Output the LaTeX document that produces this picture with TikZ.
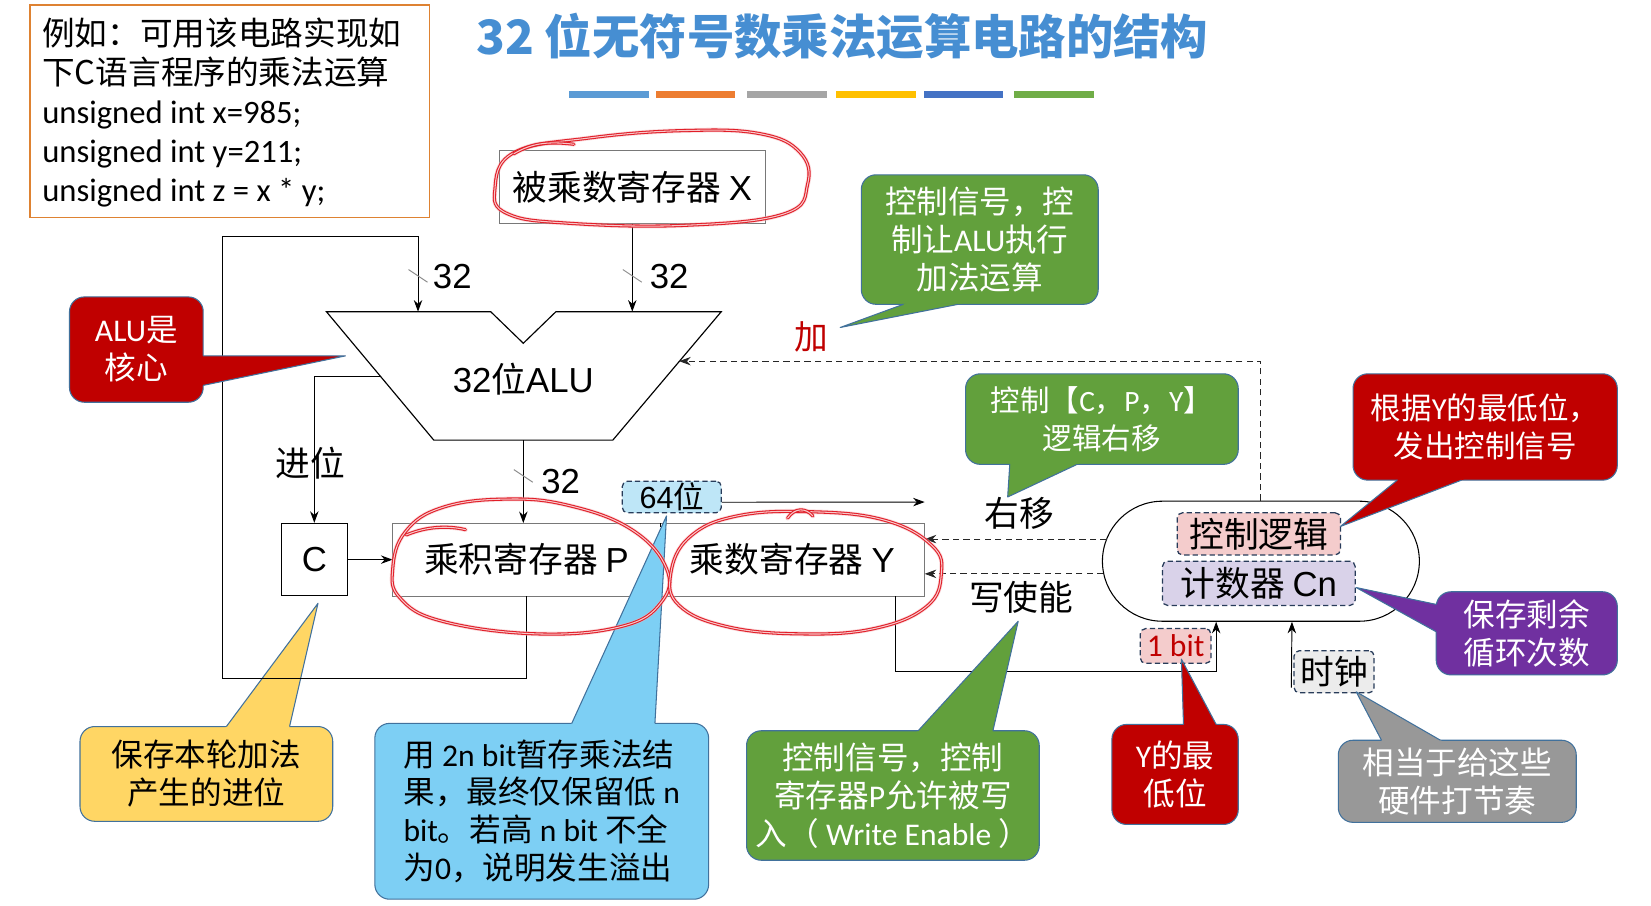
\documentclass[tikz,border=0pt]{standalone}
\usepackage{fontspec}
\setmainfont{Noto Sans CJK SC}
\newfontfamily\latf{Carlito}
\newfontfamily\hv{Liberation Sans}
\usetikzlibrary{arrows.meta,calc}
\definecolor{titleblue}{RGB}{70,142,210}
\definecolor{boxorange}{RGB}{222,130,50}
\definecolor{cgreen}{RGB}{98,160,60}
\definecolor{cred}{RGB}{192,0,0}
\definecolor{cpurple}{RGB}{112,48,160}
\definecolor{cgray}{RGB}{152,152,152}
\definecolor{cyellow}{RGB}{255,214,100}
\definecolor{cblue}{RGB}{125,207,244}
\definecolor{cedge}{RGB}{65,113,156}
\definecolor{dashedge}{RGB}{40,60,90}
\definecolor{fpink}{RGB}{244,204,204}
\definecolor{flav}{RGB}{217,210,233}
\definecolor{flblue}{RGB}{190,230,247}
\definecolor{flgray}{RGB}{236,236,236}
\definecolor{regedge}{RGB}{120,120,120}
\definecolor{handred}{RGB}{225,30,40}
\definecolor{barA}{RGB}{91,155,213}
\definecolor{barB}{RGB}{237,125,49}
\definecolor{barC}{RGB}{165,165,165}
\definecolor{barD}{RGB}{255,192,0}
\definecolor{barE}{RGB}{68,114,196}
\definecolor{barF}{RGB}{112,173,71}
\newcommand\fsz[2]{\fontsize{#1}{#2}\selectfont}
\newcommand\lt[1]{{\latf #1}}
\newcommand\hvt[1]{{\hv #1}}
\newcommand\ptr[4]{%
  \fill[#1] #2 -- ($#3!-4pt!#2$) -- ($#4!-4pt!#2$) -- cycle;
  \draw[pedge] #3 -- #2 -- #4;}
\newcommand\busmark[1]{\draw[slash] ($#1+(-9,-6)$) -- ($#1+(9,6)$);}
\begin{document}
\begin{tikzpicture}[x=1pt,y=-1pt,
  wire/.style={draw=black, line width=0.9pt},
  arr/.style={wire, -{Stealth[length=11pt,width=8pt]}},
  dwire/.style={draw=black!85, line width=0.9pt, dash pattern=on 6pt off 4pt, -{Stealth[length=11pt,width=8pt]}},
  slash/.style={draw=black!45, line width=0.9pt},
  reg/.style={draw=regedge, line width=0.9pt, fill=white, inner sep=0, font=\fsz{33}{38}},
  lbl/.style={inner sep=0, font=\fsz{33}{38}},
  tag/.style={draw=dashedge, dash pattern=on 5pt off 3pt, line width=1.2pt, rounded corners=5pt, inner sep=0},
  cbox/.style={draw=cedge, line width=1pt, rounded corners=14pt, align=center, text=white, inner sep=2pt, font=\fsz{30}{36}},
  pedge/.style={draw=cedge, line width=1pt, line join=round},
  handglow/.style={draw=handred!35!white, line width=4.5pt, opacity=0.45, line cap=round},
  hand/.style={draw=handred, line width=1pt, double=handred!25!white, double distance=1pt, line cap=round},
]
\useasboundingbox (0,0) rectangle (1568,860);
\fill[white] (0,0) rectangle (1568,860);

% title and colour bars
\node[font=\bfseries\fsz{45}{50}, text=titleblue, inner sep=0] (title) at (800,35) {32 位无符号数乘法运算电路的结构};
\fill[barA] (540,86) rectangle (616,93);
\fill[barB] (623,86) rectangle (698,93);
\fill[barC] (709,86) rectangle (785,93);
\fill[barD] (794,86) rectangle (870,93);
\fill[barE] (878,86) rectangle (953,93);
\fill[barF] (963,86) rectangle (1039,93);

% example box
\node[draw=boxorange, line width=1.5pt, minimum width=379, minimum height=202, inner sep=0, anchor=north west] (ex) at (28,4) {};
\node[anchor=west, align=left, inner sep=0, font=\fsz{31}{37}] (extext) at (40,107) {例如：可用该电路实现如\\下C语言程序的乘法运算\\\lt{unsigned int x=985;}\\\lt{unsigned int y=211;}\\\lt{unsigned int z = x * y;}};

% yellow callout (under the wires)
\node[cbox, fill=cyellow, text=black, minimum width=240, minimum height=90] (carrycall) at (196,735) {保存本轮加法\\产生的进位};
\ptr{cyellow}{(302,573)}{(215,690)}{(275,690)}

% X register
\node[reg, minimum width=253, minimum height=69] (xreg) at (600.5,177.5) {被乘数寄存器 \hvt{X}};

% ALU
\coordinate (aluinL) at (397,296);
\coordinate (aluinR) at (600.5,296);
\coordinate (aluout) at (497,418);
\coordinate (alucarry) at (362,358);
\coordinate (aluctl) at (645,343);
\draw[line width=1.1pt, fill=white, line join=miter] (310,296) -- (466,296) -- (497,326) -- (528,296) -- (685,296) -- (582,418) -- (412,418) -- cycle;
\node[lbl] (alu) at (497,360) {\hvt{32}位\hvt{ALU}};

% C, P, Y
\node[reg, draw=black, minimum width=63, minimum height=69] (cbox) at (298.5,531.5) {\hvt{C}};
\node[lbl, minimum width=254, minimum height=69] (preg) at (500,531.5) {乘积寄存器 \hvt{P}};
\node[lbl, minimum width=251, minimum height=69] (yreg) at (752.5,531.5) {乘数寄存器 \hvt{Y}};
\draw[draw=regedge, line width=0.9pt] (preg.north west) rectangle (yreg.south east);
\draw[draw=black, line width=0.8pt, dash pattern=on 4pt off 3pt] (preg.north east) -- (preg.south east);

% wires
\draw[arr] (xreg.south) -- (aluinR);
\draw[arr] (preg.south) |- (211,644) |- (397,225) -- (aluinL);
\draw[arr] (aluout) -- (aluout |- preg.north);
\draw[arr] (alucarry) -| (cbox.north);
\draw[arr] (cbox.east) -- (preg.west);
\busmark{(397,262)}
\busmark{(600.5,262)}
\busmark{(497,452)}
\node[lbl, anchor=west] (b32a) at (411,263) {\hvt{32}};
\node[lbl, anchor=west] (b32b) at (617,263) {\hvt{32}};
\node[lbl, anchor=west] (b32c) at (514,457) {\hvt{32}};
\node[lbl] (jinwei) at (295,440) {进位};

% control unit
\node[draw=black, line width=1pt, minimum width=301, minimum height=114, rounded corners=57pt, inner sep=0] (ctrl) at (1197.5,533) {};
\node[tag, fill=fpink, minimum width=155, minimum height=40, font=\fsz{33}{38}] (ctl) at (1195.5,507) {控制逻辑};
\node[tag, fill=flav, minimum width=183, minimum height=42, font=\fsz{33}{38}] (cnt) at (1195.5,554) {计数器 \hvt{Cn}};

\coordinate (shR) at (1051,512);
\coordinate (weR) at (1048,545);
\draw[dwire] (ctrl.north) |- (aluctl);
\draw[dwire] (shR) -- (shR -| yreg.east);
\draw[dwire] (weR) -- (weR -| yreg.east);
\node[lbl] (shl) at (968,488) {右移};
\node[lbl] (wel) at (970,567) {写使能};
\node[inner sep=0, text=cred, font=\fsz{32}{36}] (jia) at (771,320) {加};

% 64 bit tag and shift arrow
\node[tag, fill=flblue, minimum width=94, minimum height=30, font=\fsz{29}{32}] (b64) at (638,472) {\hvt{64}位};
\draw[arr] ($(b64.east)+(0,5)$) -- ($(yreg.north east)+(0,-20)$);

% Y lsb to control, clock
\draw[arr] ($(yreg.south east)+(-28,0)$) |- ($(ctrl.south)+(-42.5,47)$) -- ($(ctrl.south)+(-42.5,0)$);
\node[tag, fill=fpink, minimum width=67, minimum height=33, text=cred, font=\latf\fsz{30}{32}] (bit) at (1116.5,613.5) {1 bit};
\node[tag, fill=flgray, minimum width=76, minimum height=40, font=\fsz{32}{36}] (clk) at (1267,638) {时钟};
\draw[arr] ($(clk.west)+(-2,15)$) -- ($(ctrl.south)+(29.5,0)$);

% callouts
\node[cbox, fill=cred, minimum width=127, minimum height=100] (alucore) at (129.5,332) {\lt{ALU}是\\核心};
\ptr{cred}{(328,338)}{(193,338)}{(193,366)}

\node[cbox, fill=cgreen, minimum width=225, minimum height=123] (addcall) at (930.5,227.5) {控制信号，控\\制让\lt{ALU}执行\\加法运算};
\ptr{cgreen}{(798,311)}{(858,289)}{(910,289)}

\node[cbox, fill=cgreen, minimum width=259, minimum height=86, font=\fsz{28}{36}] (shiftcall) at (1046.5,398) {控制【\lt{C}，\lt{P}，\lt{Y}】\\逻辑右移};
\ptr{cgreen}{(957,472)}{(959,441)}{(1023,441)}

\node[cbox, fill=cred, minimum width=251, minimum height=101, font=\fsz{29}{36}] (ctrlcall) at (1410.5,405.5) {根据\lt{Y}的最低位，\\发出控制信号};
\ptr{cred}{(1273,500)}{(1327,456)}{(1388,456)}

\node[cbox, fill=cpurple, minimum width=172, minimum height=79] (cntcall) at (1450,601.5) {保存剩余\\循环次数};
\ptr{cpurple}{(1288,558)}{(1364,574)}{(1364,600)}

\node[cbox, fill=cred, minimum width=120, minimum height=95] (lsbcall) at (1116,735.5) {\lt{Y}的最\\低位};
\ptr{cred}{(1122,626)}{(1124,688)}{(1155,688)}

\node[cbox, fill=cgray, minimum width=226, minimum height=78] (clkcall) at (1384,742) {相当于给这些\\硬件打节奏};
\ptr{cgray}{(1288,657)}{(1312,703)}{(1368,703)}

\node[cbox, fill=cgreen, minimum width=278, minimum height=123] (wecall) at (848,755.5) {控制信号，控制\\寄存器\lt{P}允许被写\\入（ \lt{Write Enable} ）};
\ptr{cgreen}{(967,590)}{(872,694)}{(943,694)}

\node[cbox, fill=cblue, text=black, align=left, minimum width=317, minimum height=167] (p64call) at (514.5,770.5) {用 \lt{2n bit}暂存乘法结\\果，最终仅保留低 \lt{n}\\\lt{bit}。若高 \lt{n bit} 不全\\为\lt{0}，说明发生溢出};
\ptr{cblue}{(633,490)}{(543,687)}{(622,687)}

% hand-drawn red loops
\foreach \sty in {handglow,hand}{
\draw[\sty] plot[smooth cycle, tension=0.7] coordinates {(470,180) (488,145) (560,131) (650,124) (722,127) (760,145) (767,175) (745,203) (650,214) (540,212) (482,203)};
\draw[\sty] (488,146) .. controls (505,136) and (520,134) .. (545,137);
\draw[\sty] plot[smooth cycle, tension=0.7] coordinates {(373,540) (385,505) (420,482) (480,474) (540,480) (600,503) (633,540) (628,572) (590,595) (510,602) (420,590) (380,568)};
\draw[\sty] (386,508) .. controls (405,500) and (425,499) .. (442,503);
\draw[\sty] plot[smooth cycle, tension=0.7] coordinates {(637,545) (655,510) (700,490) (770,486) (840,494) (885,518) (894,545) (880,576) (830,597) (760,602) (690,595) (645,575)};
\draw[\sty] (748,492) .. controls (755,482) and (765,482) .. (772,490);
}
\end{tikzpicture}
\end{document}
